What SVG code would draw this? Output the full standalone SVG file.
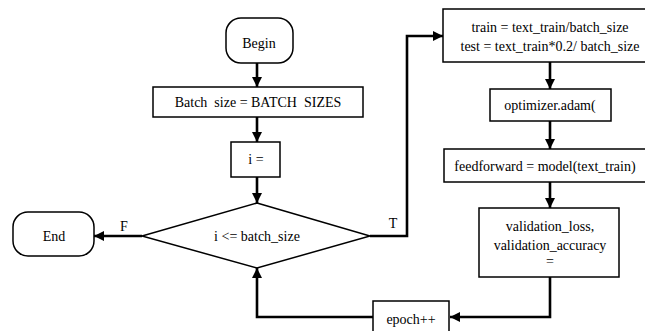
<svg xmlns="http://www.w3.org/2000/svg" width="645" height="331" viewBox="0 0 645 331">
<defs>
<style>
.box{fill:#fff;stroke:#000;stroke-width:1.5}
.ln{fill:none;stroke:#000;stroke-width:2.6}
.t{font-family:Liberation Serif,DejaVu Serif,Times New Roman,serif;font-size:14px;fill:#000;text-anchor:middle}
</style>
<marker id="ah" viewBox="0 0 10 10" refX="10" refY="5" markerWidth="10" markerHeight="10" markerUnits="userSpaceOnUse" orient="auto">
<path d="M0,0 L10,5 L0,10 Z" fill="#000"/>
</marker>
</defs>
<rect width="645" height="331" fill="#fff"/>
<g id="connectors">
<path class="ln" d="M257,63 V87" marker-end="url(#ah)"/>
<path class="ln" d="M257,117 V142" marker-end="url(#ah)"/>
<path class="ln" d="M257,177 V203" marker-end="url(#ah)"/>
<path class="ln" d="M142,236 H94" marker-end="url(#ah)"/>
<path class="ln" d="M370,236 H407 V36 H443" marker-end="url(#ah)"/>
<path class="ln" d="M550,62 V89" marker-end="url(#ah)"/>
<path class="ln" d="M550,121 V149" marker-end="url(#ah)"/>
<path class="ln" d="M550,182 V208" marker-end="url(#ah)"/>
<path class="ln" d="M550,277 V317 H450" marker-end="url(#ah)"/>
<path class="ln" d="M373,317 H257 V268" marker-end="url(#ah)"/>
<text class="t" x="124" y="231">F</text>
<text class="t" x="393" y="228">T</text>
</g>
<g id="begin">
<rect class="box" x="226" y="18" width="67" height="45" rx="15"/>
<text class="t" x="259" y="48">Begin</text>
</g>
<g id="batch">
<rect class="box" x="153" y="87" width="210" height="30"/>
<text class="t" x="258" y="107" xml:space="preserve">Batch  size = BATCH  SIZES</text>
</g>
<g id="init">
<rect class="box" x="231" y="142" width="49" height="35"/>
<text class="t" x="256" y="164">i =</text>
</g>
<g id="decision">
<polygon class="box" points="257,203 370,236 257,268 142,236"/>
<text class="t" x="257" y="241">i &lt;= batch_size</text>
</g>
<g id="end">
<rect class="box" x="13" y="212" width="81" height="44" rx="15"/>
<text class="t" x="54" y="241">End</text>
</g>
<g id="split">
<rect class="box" x="443" y="9" width="210" height="53"/>
<text class="t" x="550" y="32">train = text_train/batch_size</text>
<text class="t" x="550" y="51">test = text_train*0.2/ batch_size</text>
</g>
<g id="optimizer">
<rect class="box" x="490" y="89" width="121" height="32"/>
<text class="t" x="550" y="110">optimizer.adam(</text>
</g>
<g id="feedforward">
<rect class="box" x="444" y="149" width="210" height="33"/>
<text class="t" x="545" y="171">feedforward = model(text_train)</text>
</g>
<g id="validation">
<rect class="box" x="479" y="208" width="140" height="69"/>
<text class="t" x="550" y="231">validation_loss,</text>
<text class="t" x="550" y="250">validation_accuracy</text>
<text class="t" x="550" y="266">=</text>
</g>
<g id="epoch">
<rect class="box" x="373" y="301" width="76" height="40"/>
<text class="t" x="411" y="324">epoch++</text>
</g>
</svg>
